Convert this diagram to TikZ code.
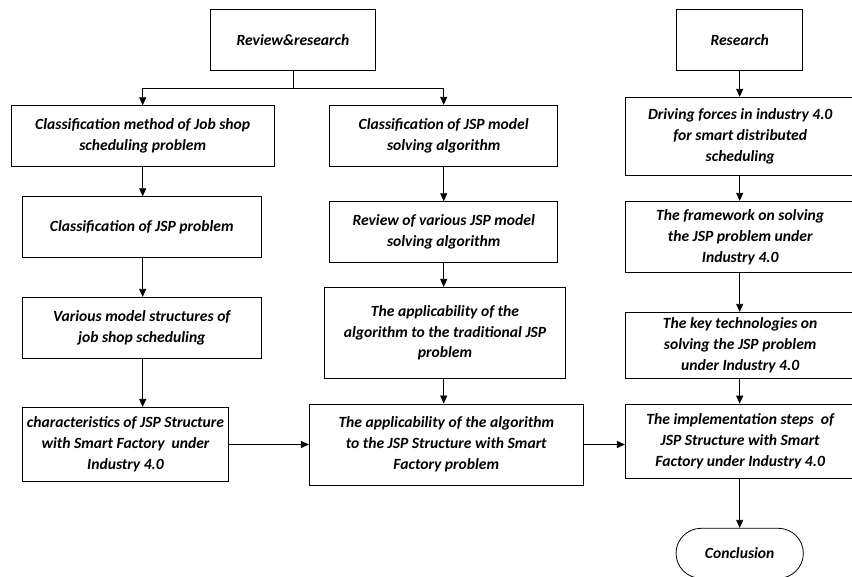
\documentclass[tikz,border=0pt]{standalone}
\usepackage{fontspec}
\setmainfont{Carlito}
\usetikzlibrary{arrows.meta}
\begin{document}
\begin{tikzpicture}[x=1pt,y=-1pt,
  box/.style={draw, line width=0.8pt, align=center, inner xsep=1pt, inner ysep=0pt,
    font=\fontsize{15.6}{20.8}\selectfont\bfseries\itshape},
  arr/.style={line width=0.8pt, -{Triangle[width=7pt,length=8pt]}},
  ln/.style={line width=0.8pt}]
\useasboundingbox (0,0) rectangle (852,577);
% left column
\node[box, minimum width=164.6pt, minimum height=61pt] (rr) at (293,39.8) {Review\&research};
\node[box, minimum width=263.3pt, minimum height=60.6pt] (c1) at (142.7,136) {Classification method of Job shop\\scheduling problem};
\node[box, minimum width=238.3pt, minimum height=60.6pt] (c2) at (141.8,227) {Classification of JSP problem};
\node[box, minimum width=238.3pt, minimum height=61pt] (c3) at (141.8,327.8) {Various model structures of\\job shop scheduling};
\node[box, minimum width=205.6pt, minimum height=74.4pt] (c4) at (125.5,444.5) {characteristics of JSP Structure\\with Smart Factory~ under\\Industry 4.0};
% middle column
\node[box, minimum width=228pt, minimum height=61pt] (m1) at (443.7,135.8) {Classification of JSP model\\solving algorithm};
\node[box, minimum width=228pt, minimum height=61pt] (m2) at (443.7,232.2) {Review of various JSP model\\solving algorithm};
\node[box, minimum width=241.4pt, minimum height=91pt] (m3) at (445,332.8) {The applicability of the\\algorithm to the traditional JSP\\problem};
\node[box, minimum width=274pt, minimum height=81pt] (m4) at (446.3,444.5) {The applicability of the algorithm\\to the JSP Structure with Smart\\Factory problem};
% right column
\node[box, minimum width=126pt, minimum height=61pt] (r0) at (739.7,39.8) {Research};
\node[box, minimum width=229.7pt, minimum height=78.4pt] (r1) at (740.2,136.5) {Driving forces in industry 4.0\\for smart distributed\\scheduling};
\node[box, minimum width=229.7pt, minimum height=71.4pt] (r2) at (740.2,237) {The framework on solving\\the JSP problem under\\Industry 4.0};
\node[box, minimum width=229.7pt, minimum height=66pt] (r3) at (740.2,345.3) {The key technologies on\\solving the JSP problem\\under Industry 4.0};
\node[box, minimum width=229.7pt, minimum height=74.3pt] (r4) at (740.2,441.2) {The implementation steps~ of\\JSP Structure with Smart\\Factory under Industry 4.0};
\node[box, minimum width=127.3pt, minimum height=50pt, rounded corners=25pt] (cc) at (739.7,553.3) {Conclusion};
% connectors
\coordinate (j) at (293,88.7);
\draw[ln] (rr.south) -- (j);
\draw[arr] (j) -| (c1.north);
\draw[arr] (j) -| (m1.north);
\draw[arr] (c1.south) -- (c1.south |- c2.north);
\draw[arr] (c1.south |- c2.south) -- (c1.south |- c3.north);
\draw[arr] (c1.south |- c3.south) -- (c1.south |- c4.north);
\draw[arr] (m1.south) -- (m2.north);
\draw[arr] (m2.south) -- (m2.south |- m3.north);
\draw[arr] (m2.south |- m3.south) -- (m2.south |- m4.north);
\draw[arr] (r0.south) -- (r0.south |- r1.north);
\draw[arr] (r0.south |- r1.south) -- (r0.south |- r2.north);
\draw[arr] (r0.south |- r2.south) -- (r0.south |- r3.north);
\draw[arr] (r0.south |- r3.south) -- (r0.south |- r4.north);
\draw[arr] (r0.south |- r4.south) -- (cc.north);
\draw[arr] (c4.east) -- (m4.west);
\draw[arr] (m4.east) -- (r4.west |- m4.east);
\end{tikzpicture}
\end{document}
